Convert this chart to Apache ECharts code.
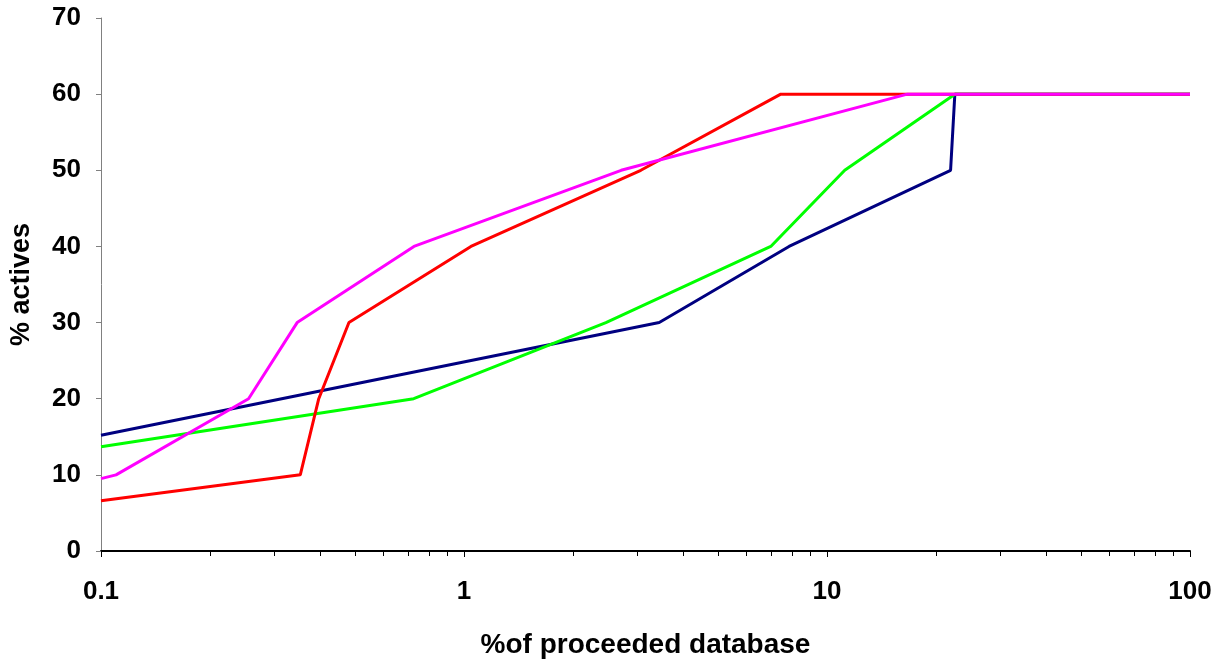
<!DOCTYPE html>
<html>
<head>
<meta charset="utf-8">
<script src="https://cdn.jsdelivr.net/npm/echarts@6/dist/echarts.min.js"></script>
<style>html,body{margin:0;padding:0;background:#fff;}#c{width:1231px;height:665px;}</style>
</head>
<body>
<div id="c"></div>
<script>
// Data (x = % of proceeded database, y = % actives)
const navyX = [0.1, 3.45, 7.86, 21.9, 22.5, 100];
const navyY = [15.2, 30, 40, 50, 60, 60];
const greenX = [0.1, 0.727, 2.46, 7.0, 11.19, 22.5, 100];
const greenY = [13.7, 20, 30, 40, 50, 60, 60];
const redX = [0.1, 0.354, 0.398, 0.482, 1.045, 3.07, 7.46, 100];
const redY = [6.6, 10, 20, 30, 40, 50, 60, 60];
const magentaX = [0.1, 0.11, 0.255, 0.347, 0.728, 2.71, 16.65, 100];
const magentaY = [9.5, 10, 20, 30, 40, 50, 60, 60];
const minorTickValues = [0.2,0.3,0.4,0.5,0.6,0.7,0.8,0.9,2,3,4,5,6,7,8,9,20,30,40,50,60,70,80,90];
const yTicks = [0, 10, 20, 30, 40, 50, 60, 70];

const font = '"Liberation Sans", Arial, Helvetica, sans-serif';
const zip = (xs, ys) => xs.map((x, i) => [x, ys[i]]);

function lineSeries(name, xs, ys, color) {
  return {
    name, type: 'line', data: zip(xs, ys), symbol: 'none',
    lineStyle: { color, width: 3 }, itemStyle: { color },
    z: 3
  };
}

const chart = echarts.init(document.getElementById('c'));
chart.setOption({
  animation: false,
  backgroundColor: '#ffffff',
  grid: { left: 100, right: 41, top: 18, bottom: 114 },
  xAxis: {
    type: 'log', logBase: 10, min: 0.1, max: 100,
    name: '%of proceeded database', nameLocation: 'middle', nameGap: 80,
    nameTextStyle: { fontFamily: font, fontWeight: 'bold', fontSize: 28, color: '#000' },
    axisLine: { show: true, lineStyle: { color: '#000', width: 2 } },
    axisTick: { show: true, inside: false, length: 6, lineStyle: { color: '#000', width: 1 } },
    axisLabel: { fontFamily: font, fontWeight: 'bold', fontSize: 26, color: '#000', margin: 28,
      formatter: v => String(v) },
    splitLine: { show: false },
    minorTick: { show: false }
  },
  yAxis: {
    type: 'value', min: yTicks[0], max: yTicks[yTicks.length - 1], interval: 10,
    name: '% actives', nameLocation: 'middle', nameGap: 66, nameRotate: 90,
    nameTextStyle: { fontFamily: font, fontWeight: 'bold', fontSize: 27, color: '#000' },
    axisLine: { show: true, lineStyle: { color: '#808080', width: 1 } },
    axisTick: { show: true, inside: false, length: 5, lineStyle: { color: '#808080', width: 1 } },
    axisLabel: { fontFamily: font, fontWeight: 'bold', fontSize: 26, color: '#000', margin: 20 },
    splitLine: { show: false }
  },
  series: [
    lineSeries('navy', navyX, navyY, '#000080'),
    lineSeries('green', greenX, greenY, '#00ff00'),
    lineSeries('red', redX, redY, '#ff0000'),
    lineSeries('magenta', magentaX, magentaY, '#ff00ff'),
    {
      type: 'custom', clip: false, silent: true, z: 5,
      data: minorTickValues.map(v => [v, 0]),
      renderItem: function (params, api) {
        const p = api.coord([api.value(0), api.value(1)]);
        const x = Math.round(p[0]) + 0.5;
        return { type: 'line', shape: { x1: x, y1: p[1], x2: x, y2: p[1] + 5 },
          style: { stroke: '#000', lineWidth: 1 } };
      }
    }
  ]
});
</script>
</body>
</html>
